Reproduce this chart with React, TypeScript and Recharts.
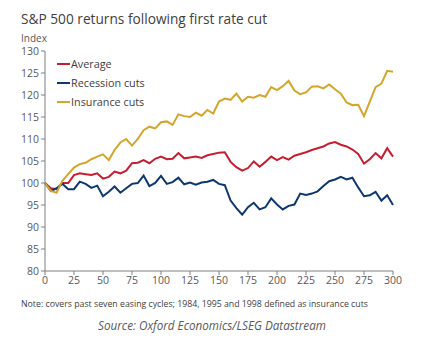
// @ts-nocheck
import React from 'react';
import { LineChart, Line, XAxis, YAxis } from 'recharts';

const days = Array.from({ length: 61 }, (_, i) => i * 5);

const average = [
  100, 98.8, 98.6, 100, 100, 101.8, 102.2, 102, 101.8, 102.2, 101, 101.4, 102.6, 102.2, 102.8, 104.5,
  104.6, 105.2, 104.5, 105.5, 106, 105.4, 105.5, 106.8, 105.6, 105.8, 106, 105.7, 106.3, 106.6, 106.9,
  107, 104.8, 103.6, 102.8, 103.4, 104.9, 103.7, 104.8, 106, 105.2, 105.9, 105.3, 106.2, 106.6, 107,
  107.5, 107.9, 108.3, 109, 109.3, 108.7, 108.3, 107.6, 106.6, 104.4, 105.4, 106.8, 105.6, 107.9, 106,
];

const recession = [
  100, 98.2, 98.8, 99.8, 98.6, 98.6, 100.3, 99.8, 98.9, 99.4, 97, 98, 99.2, 97.8, 98.8, 99.8,
  100, 101.7, 99.3, 100, 101.6, 99.8, 100.2, 101.2, 99.7, 100.1, 99.6, 100.1, 100.3, 100.7, 99.8,
  99.5, 96, 94.3, 92.8, 94.5, 95.5, 94, 94.5, 96.5, 95.1, 94, 94.8, 95.1, 97.6, 97.3,
  97.6, 98.1, 99.3, 100.4, 100.8, 101.4, 100.8, 101.2, 99, 97, 97.2, 98, 96, 97.2, 95,
];

const insurance = [
  100, 98.2, 97.8, 100.5, 102, 103.5, 104.3, 104.6, 105.4, 106, 106.5, 105.2, 107.5, 109.2, 110, 108.5,
  110, 112, 112.8, 112.4, 113.8, 114, 113.2, 115.6, 115.2, 115, 116, 115.3, 116.6, 115.8, 118.5,
  119.2, 118.9, 120.3, 118.5, 119.6, 119.4, 120, 119.6, 121.8, 121.1, 122, 123.2, 121, 120.2, 120.6,
  121.9, 122, 121.5, 122.4, 121.3, 120.3, 118.3, 117.7, 117.8, 115.2, 118.5, 121.8, 122.6, 125.5, 125.3,
];

const xTicks = [0, 25, 50, 75, 100, 125, 150, 175, 200, 225, 250, 275, 300];
const yTicks = [80, 85, 90, 95, 100, 105, 110, 115, 120, 125, 130];

const SERIES = [
  { key: 'average', label: 'Average', color: '#C41E30' },
  { key: 'recession', label: 'Recession cuts', color: '#0E3770' },
  { key: 'insurance', label: 'Insurance cuts', color: '#D4A52A' },
];

const chartData = days.map((day, i) => ({
  day,
  average: average[i],
  recession: recession[i],
  insurance: insurance[i],
}));

const FONT = '"Open Sans", "Noto Sans", sans-serif';
const AXIS = '#7f7f7f';
const TICK = { fontSize: 10.5, fill: '#595959', fontFamily: FONT };

export default function App() {
  return (
    <div style={{ position: 'absolute', left: 0, top: 0, width: 424, height: 344, background: '#fff', fontFamily: FONT }}>
      <div style={{ position: 'absolute', left: 21, top: 9, fontSize: 13.7, color: '#404040', whiteSpace: 'nowrap' }}>
        S&amp;P 500 returns following first rate cut
      </div>
      <div style={{ position: 'absolute', left: 21, top: 31, fontSize: 10, color: '#595959' }}>Index</div>

      <div style={{ position: 'absolute', left: 0, top: 0 }}>
        <LineChart width={424} height={300} data={chartData} margin={{ top: 51, right: 31, left: 0, bottom: 9 }}>
          <XAxis
            dataKey="day"
            type="number"
            domain={[0, 300]}
            ticks={xTicks}
            interval={0}
            height={20}
            tick={TICK}
            tickSize={4}
            axisLine={{ stroke: AXIS }}
            tickLine={{ stroke: AXIS }}
          />
          <YAxis
            type="number"
            domain={[80, 130]}
            ticks={yTicks}
            interval={0}
            width={45}
            tick={TICK}
            tickSize={4}
            axisLine={{ stroke: AXIS }}
            tickLine={{ stroke: AXIS }}
          />
          {SERIES.map(({ key, color }) => (
            <Line key={key} dataKey={key} stroke={color} strokeWidth={2} dot={false} isAnimationActive={false} />
          ))}
        </LineChart>
      </div>

      {SERIES.map(({ key, label, color }, i) => (
        <div key={key} style={{ position: 'absolute', left: 57, top: 56 + i * 19, display: 'flex', alignItems: 'center', fontSize: 10.8, color: '#404040' }}>
          <span style={{ display: 'inline-block', width: 13, height: 2, background: color, marginRight: 1 }} />
          <span>{label}</span>
        </div>
      ))}

      <div style={{ position: 'absolute', left: 21, top: 298, fontSize: 8.75, color: '#404040', whiteSpace: 'nowrap' }}>
        Note: covers past seven easing cycles; 1984, 1995 and 1998 defined as insurance cuts
      </div>
      <div style={{ position: 'absolute', left: 0, width: 424, top: 317, textAlign: 'center', fontSize: 11.7, fontStyle: 'italic', color: '#595959' }}>
        Source: Oxford Economics/LSEG Datastream
      </div>
    </div>
  );
}
